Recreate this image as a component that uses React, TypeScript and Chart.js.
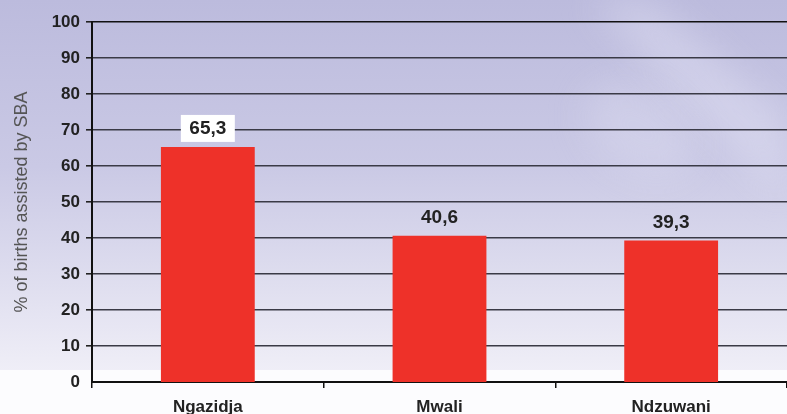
import React, { useEffect, useRef } from "react";
import { Chart, registerables } from "chart.js";

Chart.register(...registerables);

const islands = ["Ngazidja", "Mwali", "Ndzuwani"];
const sbaShare = [65.3, 40.6, 39.3];
const yTicks = [0, 10, 20, 30, 40, 50, 60, 70, 80, 90, 100];
const labelBoxed = [true, false, false];

const fmt = (v: number) => v.toFixed(1).replace(".", ",");
const FONT = "Arial, 'Liberation Sans', sans-serif";

const backdrop = {
  id: "backdrop",
  beforeDraw(chart: any) {
    const { ctx, width, height } = chart;
    ctx.save();
    const g = ctx.createLinearGradient(0, 0, 0, 370);
    g.addColorStop(0, "#bcbbdd");
    g.addColorStop(0.45, "#cac9e5");
    g.addColorStop(1, "#efeef7");
    ctx.fillStyle = g;
    ctx.fillRect(0, 0, width, 370);
    ctx.fillStyle = "#fcfcfe";
    ctx.fillRect(0, 370, width, height - 370);
    // soft pale sweep on the right
    ctx.filter = "blur(18px)";
    ctx.fillStyle = "rgba(235,234,248,0.35)";
    ctx.beginPath();
    ctx.moveTo(590, 0);
    ctx.quadraticCurveTo(700, 120, 787, 200);
    ctx.lineTo(787, 120);
    ctx.quadraticCurveTo(720, 60, 650, 0);
    ctx.closePath();
    ctx.fill();
    ctx.fillStyle = "rgba(230,229,246,0.3)";
    ctx.beginPath();
    ctx.ellipse(640, 130, 60, 40, 0.6, 0, Math.PI * 2);
    ctx.fill();
    ctx.restore();
  },
};

const valueLabels = {
  id: "valueLabels",
  afterDatasetsDraw(chart: any) {
    const { ctx } = chart;
    const meta = chart.getDatasetMeta(0);
    ctx.save();
    ctx.font = `bold 19px ${FONT}`;
    ctx.textAlign = "center";
    ctx.textBaseline = "middle";
    meta.data.forEach((bar: any, i: number) => {
      const text = fmt(sbaShare[i]);
      const x = bar.x;
      const y = bar.y - 19;
      if (labelBoxed[i]) {
        const w = ctx.measureText(text).width + 17;
        ctx.fillStyle = "#ffffff";
        ctx.fillRect(x - w / 2, y - 13, w, 27);
      }
      ctx.fillStyle = "#222222";
      ctx.fillText(text, x, y + 1);
    });
    ctx.restore();
  },
};

export default function App() {
  const ref = useRef<HTMLCanvasElement>(null);

  useEffect(() => {
    document.body.style.margin = "0";
    const chart = new Chart(ref.current!, {
      type: "bar",
      data: {
        labels: islands,
        datasets: [
          {
            data: sbaShare,
            backgroundColor: "#ee3129",
            borderWidth: 0,
            categoryPercentage: 0.405,
            barPercentage: 1,
          },
        ],
      },
      options: {
        animation: false,
        responsive: false,
        layout: { padding: { top: 22, right: 0, bottom: 0, left: 0 } },
        plugins: { legend: { display: false }, tooltip: { enabled: false } },
        scales: {
          x: {
            afterFit(scale: any) {
              scale.height = 32;
            },
            grid: {
              offset: true,
              drawOnChartArea: false,
              drawTicks: true,
              tickLength: 6,
              color: "#111111",
              lineWidth: 1.5,
            },
            border: { color: "#111111", width: 2 },
            ticks: {
              color: "#222222",
              font: { family: FONT, size: 17, weight: "bold" },
              padding: 9,
            },
          },
          y: {
            min: 0,
            max: 100,
            afterBuildTicks(scale: any) {
              scale.ticks = yTicks.map((v) => ({ value: v }));
            },
            afterFit(scale: any) {
              scale.width = 92;
            },
            grid: {
              color: (c: any) => (c.tick && c.tick.value === 100 ? "#111111" : "#3a3a46"),
              lineWidth: (c: any) => (c.tick && c.tick.value === 0 ? 0 : 1.6),
              drawTicks: true,
              tickLength: 6,
              tickColor: "#222222",
            },
            border: { color: "#111111", width: 2 },
            ticks: {
              color: "#222222",
              font: { family: FONT, size: 17, weight: "bold" },
              padding: 6,
            },
            title: {
              display: true,
              text: "% of births assisted by SBA",
              color: "#555555",
              font: { family: FONT, size: 18 },
              padding: { top: 11, bottom: 0 },
            },
          },
        },
      },
      plugins: [backdrop, valueLabels],
    });
    return () => chart.destroy();
  }, []);

  return <canvas ref={ref} width={787} height={414} style={{ display: "block" }} />;
}
